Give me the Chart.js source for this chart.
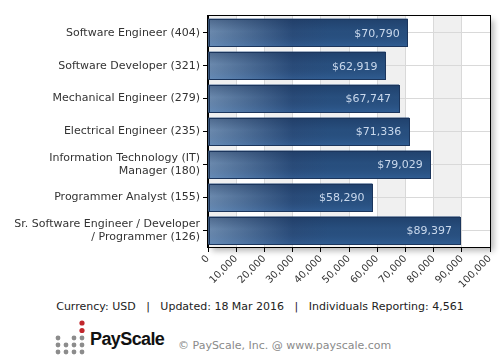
<!DOCTYPE html>
<html>
<head>
<meta charset="utf-8">
<script src="https://cdn.jsdelivr.net/npm/chart.js@4.4.1/dist/chart.umd.min.js"></script>
<style>
  body { margin: 0; background: #fff; font-family: "DejaVu Sans", Verdana, sans-serif; }
  #wrap { position: relative; width: 500px; height: 360px; overflow: hidden; }
  #chartBox { position: absolute; left: 0; top: 0; width: 500px; height: 290px; }
  .info { position: absolute; left: 10px; top: 300px; width: 500px; text-align: center; font-size: 11px; color: #222; white-space: pre; }
  .logo { position: absolute; left: 55px; top: 319px; }
  .brand { position: absolute; left: 90px; top: 329px; font-family: "Liberation Sans", Arial, sans-serif; font-weight: bold; font-size: 18px; color: #111; letter-spacing: -0.6px; }
  .copy { position: absolute; left: 178px; top: 339px; font-size: 11px; color: #8a8a8a; }
</style>
</head>
<body>
<div id="wrap">
  <div id="chartBox"><canvas id="salaryChart"></canvas></div>
  <div class="info">Currency: USD   |   Updated: 18 Mar 2016   |   Individuals Reporting: 4,561</div>
  <svg class="logo" width="32" height="40" viewBox="0 0 32 40">
    <circle cx="27" cy="4" r="2.6" fill="#c1272d"/>
    <circle cx="27" cy="11.5" r="2.6" fill="#c1272d"/>
    <g fill="#8c8c8c">
      <circle cx="3" cy="19" r="2.4"/><circle cx="19" cy="19" r="2.4"/><circle cx="27" cy="19" r="2.4"/>
      <circle cx="3" cy="26" r="2.4"/><circle cx="11" cy="26" r="2.4"/><circle cx="19" cy="26" r="2.4"/><circle cx="27" cy="26" r="2.4"/>
      <circle cx="3" cy="33" r="2.4"/><circle cx="11" cy="33" r="2.4"/><circle cx="19" cy="33" r="2.4"/><circle cx="27" cy="33" r="2.4"/>
    </g>
  </svg>
  <div class="brand">PayScale</div>
  <div class="copy">© PayScale, Inc. @ www.payscale.com</div>
</div>
<script>
// ---------- données ----------
const jobTitles = [
    ["Software Engineer (404)"],
    ["Software Developer (321)"],
    ["Mechanical Engineer (279)"],
    ["Electrical Engineer (235)"],
    ["Information Technology (IT)", "Manager (180)"],
    ["Programmer Analyst (155)"],
    ["Sr. Software Engineer / Developer", "/ Programmer (126)"]
];
const medianSalary = [70790, 62919, 67747, 71336, 79029, 58290, 89397];
const xMin = 0;
const xMax = 100000;
const xStep = 10000;

const FONT = "'DejaVu Sans', Verdana, sans-serif";

// bandes grises alternées + ombre du cadre
const bandsPlugin = {
    id: "bands",
    beforeDraw(chart) {
        const { ctx, chartArea: a, scales: { x } } = chart;
        ctx.save();
        ctx.shadowColor = "rgba(0,0,0,0.28)";
        ctx.shadowBlur = 6;
        ctx.shadowOffsetX = 4;
        ctx.shadowOffsetY = 4;
        ctx.fillStyle = "#fff";
        ctx.fillRect(a.left, a.top, a.right - a.left, a.bottom - a.top);
        ctx.restore();
        ctx.save();
        ctx.fillStyle = "#f0f0f0";
        for (let v = xMin; v < xMax; v += 2 * xStep) {
            const x0 = x.getPixelForValue(v);
            const x1 = x.getPixelForValue(v + xStep);
            ctx.fillRect(x0, a.top, x1 - x0, a.bottom - a.top);
        }
        ctx.restore();
    }
};

// dégradé des barres + étiquettes de valeur
const barStylePlugin = {
    id: "barStyle",
    afterDatasetsDraw(chart) {
        const { ctx } = chart;
        const meta = chart.getDatasetMeta(0);
        ctx.save();
        meta.data.forEach((bar, i) => {
            const { x, y, base, height } = bar.getProps(["x", "y", "base", "height"], true);
            const left = Math.min(base, x), right = Math.max(base, x);
            const top = y - height / 2, bottom = y + height / 2;

            const g = ctx.createLinearGradient(left, 0, left + 120, 0);
            g.addColorStop(0, "#7190b4");
            g.addColorStop(0.7, "#2b4d7b");
            g.addColorStop(1, "#295181");
            ctx.fillStyle = g;
            ctx.fillRect(left, top, right - left, bottom - top);

            const v = ctx.createLinearGradient(0, top, 0, bottom);
            v.addColorStop(0, "rgba(15,35,70,0.35)");
            v.addColorStop(0.45, "rgba(15,35,70,0.05)");
            v.addColorStop(1, "rgba(70,130,200,0.25)");
            ctx.fillStyle = v;
            ctx.fillRect(left, top, right - left, bottom - top);

            ctx.strokeStyle = "#1b355c";
            ctx.lineWidth = 1;
            ctx.strokeRect(Math.round(left) + 0.5, Math.round(top) + 0.5, Math.round(right - left) - 1, Math.round(bottom - top) - 1);

            ctx.fillStyle = "#c9d8ec";
            ctx.font = "11px " + FONT;
            ctx.textAlign = "right";
            ctx.textBaseline = "middle";
            ctx.fillText("$" + medianSalary[i].toLocaleString("en-US"), right - 8, y + 1);
        });
        ctx.restore();
    }
};

const framePlugin = {
    id: "frame",
    afterDraw(chart) {
        const { ctx, chartArea: a } = chart;
        ctx.save();
        ctx.strokeStyle = "#000";
        ctx.lineWidth = 1;
        ctx.strokeRect(Math.round(a.left) - 0.5, Math.round(a.top) - 0.5, Math.round(a.right - a.left) + 1, Math.round(a.bottom - a.top) + 1);
        ctx.restore();
    }
};

const ctx = document.getElementById("salaryChart").getContext("2d");

new Chart(ctx, {
    type: "bar",
    data: {
        labels: jobTitles,
        datasets: [{
            data: medianSalary,
            backgroundColor: "#2a5283",
            borderWidth: 0,
            categoryPercentage: 1,
            barPercentage: 0.84
        }]
    },
    options: {
        indexAxis: "y",
        responsive: true,
        maintainAspectRatio: false,
        animation: false,
        layout: { padding: { left: 0, right: 10, top: 14, bottom: 0 } },
        plugins: {
            legend: { display: false },
            tooltip: { enabled: false }
        },
        scales: {
            x: {
                min: xMin,
                max: xMax,
                afterFit(scale) { scale.height = 43; },
                ticks: {
                    stepSize: xStep,
                    autoSkip: false,
                    minRotation: 45,
                    maxRotation: 45,
                    padding: 1,
                    color: "#333",
                    font: { family: FONT, size: 10 },
                    callback: v => v.toLocaleString("en-US")
                },
                grid: { color: "#d9d9d9", tickColor: "#000", tickLength: 5 },
                border: { color: "#000" }
            },
            y: {
                afterFit(scale) { scale.width = 208; },
                ticks: {
                    padding: 3,
                    color: "#333",
                    font: { family: FONT, size: 11, lineHeight: 1.2 }
                },
                grid: { color: "#d9d9d9", tickColor: "#000", tickLength: 5, offset: false },
                border: { color: "#000" }
            }
        }
    },
    plugins: [bandsPlugin, barStylePlugin, framePlugin]
});
</script>
</body>
</html>
